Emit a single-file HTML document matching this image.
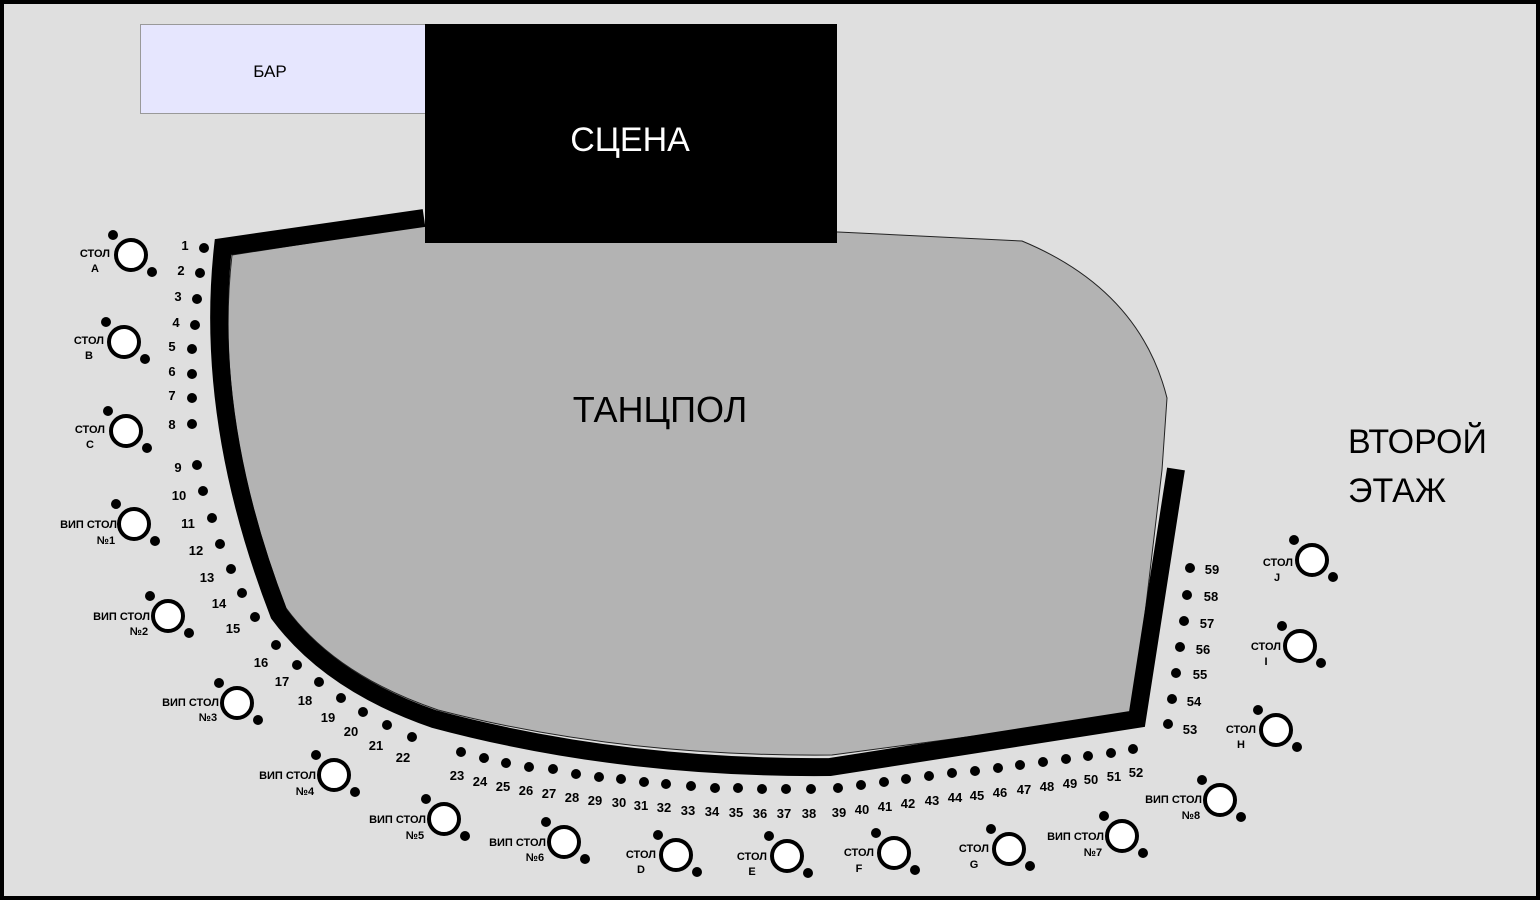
<!DOCTYPE html>
<html><head><meta charset="utf-8"><style>
html,body{margin:0;padding:0;background:#000}
svg{display:block}
text{font-family:"Liberation Sans",sans-serif}
.n{font-size:13px;font-weight:bold;text-anchor:middle}
.t{font-size:11px;font-weight:bold;text-anchor:end}
.l{font-size:11px;font-weight:bold;text-anchor:middle}
</style></head><body>
<svg width="1540" height="900" viewBox="0 0 1540 900" xmlns="http://www.w3.org/2000/svg">
<rect x="4" y="4" width="1532" height="892" fill="#dfdfdf"/>
<rect x="140.5" y="24.5" width="285" height="89" fill="#e6e6fe" stroke="#999"/>
<text x="270" y="77" font-size="17" text-anchor="middle">БАР</text>
<path d="M424,225 L232,255 Q213,420 286,608 Q335,675 438,710 Q620,757 832,755 L1133,715 L1162,470 L1167,398 Q1140,290 1022,241 L838,232 Z" fill="#b3b3b3" stroke="#222" stroke-width="1"/>
<path d="M424,218 L223,247 Q204,420 279,614 Q330,683 434,719 Q620,769 830,767 L1137,719 L1176,469" fill="none" stroke="#000" stroke-width="18" stroke-linejoin="miter"/>
<rect x="425" y="24" width="412" height="219" fill="#000"/>
<text x="630" y="151" font-size="34" fill="#fff" text-anchor="middle">СЦЕНА</text>
<text x="660" y="422" font-size="36" text-anchor="middle">ТАНЦПОЛ</text>
<text x="1348" y="453" font-size="34">ВТОРОЙ</text>
<text x="1348" y="502" font-size="34">ЭТАЖ</text>
<g fill="#000">
<circle cx="204" cy="248" r="5"/><circle cx="200" cy="273" r="5"/><circle cx="197" cy="299" r="5"/><circle cx="195" cy="325" r="5"/><circle cx="192" cy="349" r="5"/><circle cx="192" cy="374" r="5"/><circle cx="192" cy="398" r="5"/><circle cx="192" cy="424" r="5"/><circle cx="197" cy="465" r="5"/><circle cx="203" cy="491" r="5"/><circle cx="212" cy="518" r="5"/><circle cx="220" cy="544" r="5"/><circle cx="231" cy="569" r="5"/><circle cx="242" cy="593" r="5"/><circle cx="255" cy="617" r="5"/><circle cx="276" cy="645" r="5"/><circle cx="297" cy="665" r="5"/><circle cx="319" cy="682" r="5"/><circle cx="341" cy="698" r="5"/><circle cx="363" cy="712" r="5"/><circle cx="387" cy="725" r="5"/><circle cx="412" cy="737" r="5"/>
<circle cx="461" cy="752" r="5"/><circle cx="484" cy="758" r="5"/><circle cx="506" cy="763" r="5"/><circle cx="529" cy="767" r="5"/><circle cx="553" cy="769" r="5"/><circle cx="576" cy="774" r="5"/><circle cx="599" cy="777" r="5"/><circle cx="621" cy="779" r="5"/><circle cx="644" cy="782" r="5"/><circle cx="666" cy="784" r="5"/><circle cx="691" cy="786" r="5"/><circle cx="715" cy="788" r="5"/><circle cx="738" cy="788" r="5"/><circle cx="762" cy="789" r="5"/><circle cx="786" cy="789" r="5"/><circle cx="811" cy="789" r="5"/><circle cx="838" cy="788" r="5"/><circle cx="861" cy="785" r="5"/><circle cx="884" cy="782" r="5"/><circle cx="906" cy="779" r="5"/><circle cx="929" cy="776" r="5"/><circle cx="952" cy="773" r="5"/><circle cx="975" cy="771" r="5"/><circle cx="998" cy="768" r="5"/><circle cx="1020" cy="765" r="5"/><circle cx="1043" cy="762" r="5"/><circle cx="1066" cy="759" r="5"/><circle cx="1088" cy="756" r="5"/><circle cx="1111" cy="753" r="5"/><circle cx="1133" cy="749" r="5"/>
<circle cx="1168" cy="724" r="5"/><circle cx="1172" cy="699" r="5"/><circle cx="1176" cy="673" r="5"/><circle cx="1180" cy="647" r="5"/><circle cx="1184" cy="621" r="5"/><circle cx="1187" cy="595" r="5"/><circle cx="1190" cy="568" r="5"/>
</g>
<g class="n">
<text x="185" y="250">1</text><text x="181" y="275">2</text><text x="178" y="301">3</text><text x="176" y="327">4</text><text x="172" y="351">5</text><text x="172" y="376">6</text><text x="172" y="400">7</text><text x="172" y="429">8</text><text x="178" y="472">9</text><text x="179" y="500">10</text><text x="188" y="528">11</text><text x="196" y="555">12</text><text x="207" y="582">13</text><text x="219" y="608">14</text><text x="233" y="633">15</text><text x="261" y="667">16</text><text x="282" y="686">17</text><text x="305" y="705">18</text><text x="328" y="722">19</text><text x="351" y="736">20</text><text x="376" y="750">21</text><text x="403" y="762">22</text>
<text x="457" y="780">23</text><text x="480" y="786">24</text><text x="503" y="791">25</text><text x="526" y="795">26</text><text x="549" y="798">27</text><text x="572" y="802">28</text><text x="595" y="805">29</text><text x="619" y="807">30</text><text x="641" y="810">31</text><text x="664" y="812">32</text><text x="688" y="815">33</text><text x="712" y="816">34</text><text x="736" y="817">35</text><text x="760" y="818">36</text><text x="784" y="818">37</text><text x="809" y="818">38</text><text x="839" y="817">39</text><text x="862" y="814">40</text><text x="885" y="811">41</text><text x="908" y="808">42</text><text x="932" y="805">43</text><text x="955" y="802">44</text><text x="977" y="800">45</text><text x="1000" y="797">46</text><text x="1024" y="794">47</text><text x="1047" y="791">48</text><text x="1070" y="788">49</text><text x="1091" y="784">50</text><text x="1114" y="781">51</text><text x="1136" y="777">52</text>
<text x="1190" y="734">53</text><text x="1194" y="706">54</text><text x="1200" y="679">55</text><text x="1203" y="654">56</text><text x="1207" y="628">57</text><text x="1211" y="601">58</text><text x="1212" y="574">59</text>
</g>
<defs><g id="tb"><circle cx="0" cy="0" r="15" fill="#fff" stroke="#000" stroke-width="4"/><circle cx="-18" cy="-20" r="5"/><circle cx="21" cy="17" r="5"/></g></defs>
<use href="#tb" x="131" y="255"/><use href="#tb" x="124" y="342"/><use href="#tb" x="126" y="431"/><use href="#tb" x="134" y="524"/><use href="#tb" x="168" y="616"/><use href="#tb" x="237" y="703"/><use href="#tb" x="334" y="775"/><use href="#tb" x="444" y="819"/><use href="#tb" x="564" y="842"/><use href="#tb" x="676" y="855"/><use href="#tb" x="787" y="856"/><use href="#tb" x="894" y="853"/><use href="#tb" x="1009" y="849"/><use href="#tb" x="1122" y="836"/><use href="#tb" x="1220" y="800"/><use href="#tb" x="1276" y="730"/><use href="#tb" x="1300" y="646"/><use href="#tb" x="1312" y="560"/>
<g class="t">
<text x="110" y="257">СТОЛ</text><text x="104" y="344">СТОЛ</text><text x="105" y="433">СТОЛ</text><text x="117" y="528">ВИП СТОЛ</text><text x="150" y="620">ВИП СТОЛ</text><text x="219" y="706">ВИП СТОЛ</text><text x="316" y="779">ВИП СТОЛ</text><text x="426" y="823">ВИП СТОЛ</text><text x="546" y="846">ВИП СТОЛ</text><text x="656" y="858">СТОЛ</text><text x="767" y="860">СТОЛ</text><text x="874" y="856">СТОЛ</text><text x="989" y="852">СТОЛ</text><text x="1104" y="840">ВИП СТОЛ</text><text x="1202" y="803">ВИП СТОЛ</text><text x="1256" y="733">СТОЛ</text><text x="1281" y="650">СТОЛ</text><text x="1293" y="566">СТОЛ</text>
</g>
<g class="l">
<text x="95" y="272">A</text><text x="89" y="359">B</text><text x="90" y="448">C</text><text x="106" y="544">№1</text><text x="139" y="635">№2</text><text x="208" y="721">№3</text><text x="305" y="795">№4</text><text x="415" y="839">№5</text><text x="535" y="861">№6</text><text x="641" y="873">D</text><text x="752" y="875">E</text><text x="859" y="872">F</text><text x="974" y="868">G</text><text x="1093" y="856">№7</text><text x="1191" y="819">№8</text><text x="1241" y="748">H</text><text x="1266" y="665">I</text><text x="1277" y="581">J</text>
</g>
</svg>
</body></html>
